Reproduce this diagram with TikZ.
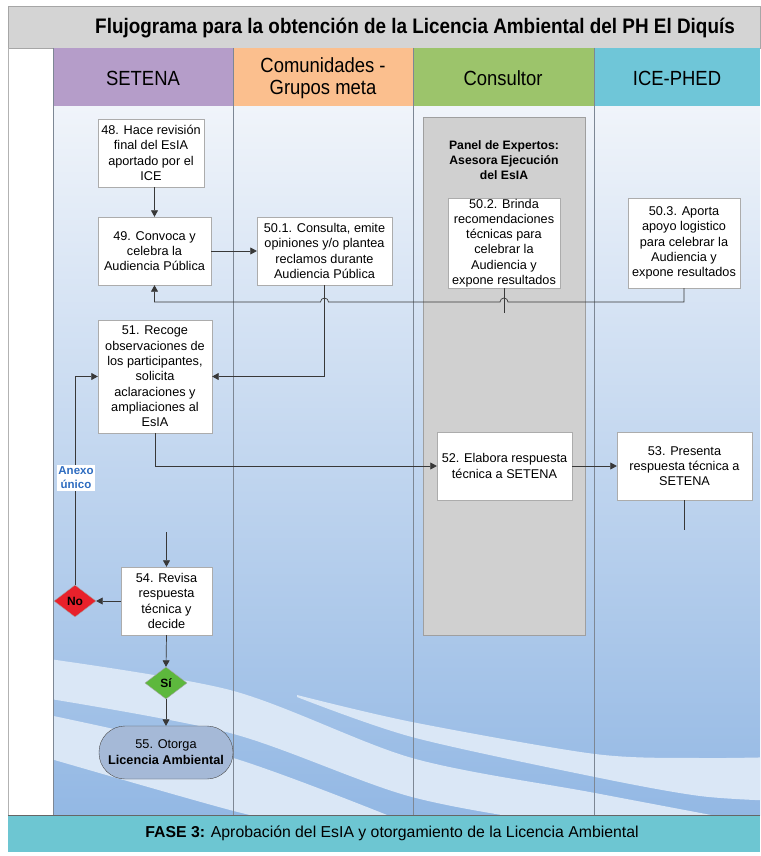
\documentclass[tikz,border=0pt]{standalone}
\usepackage{fontspec}
\setmainfont{Liberation Sans}
\newfontfamily\narrowfont[FakeStretch=0.85]{Liberation Sans}
\newfontfamily\headfont[FakeStretch=0.9]{Liberation Sans}
\usetikzlibrary{arrows.meta,shapes.geometric}
\definecolor{titlegray}{HTML}{D4D4D4}
\definecolor{setena}{HTML}{B59DC9}
\definecolor{comun}{HTML}{FBBF8E}
\definecolor{consul}{HTML}{9CC46B}
\definecolor{ice}{HTML}{6FC6D8}
\definecolor{footer}{HTML}{6DC6D2}
\definecolor{panelgray}{HTML}{D0D0D0}
\definecolor{bgtop}{HTML}{F0F4FA}
\definecolor{bgmid}{HTML}{BCD4F0}
\definecolor{bgbot}{HTML}{93B8E4}
\definecolor{wave}{HTML}{DAE7F6}
\definecolor{noRed}{HTML}{E8212B}
\definecolor{siGreen}{HTML}{5DB83D}
\definecolor{stadium}{HTML}{A5B9D7}
\definecolor{anexo}{HTML}{2E6CC0}
\definecolor{lanegray}{HTML}{7D8794}
\tikzset{
  box/.style={draw=gray!65, fill=white, align=center, inner sep=1pt,
    font=\fontsize{12.7}{15.3}\selectfont},
  lanehead/.style={font=\headfont\fontsize{20.5}{22}\selectfont, align=center},
  conn/.style={draw=black!78, line width=0.7pt},
  arr/.style={conn, -{Triangle[length=6.5pt,width=7pt]}},
  decision/.style={shape=diamond, draw=gray!70, minimum width=42pt, minimum height=32pt,
    inner sep=0pt, font=\bfseries\fontsize{12}{14}\selectfont},
  laneline/.style={draw=lanegray, line width=0.8pt}
}
\begin{document}
\begin{tikzpicture}[x=1pt,y=-1pt]
\useasboundingbox (0,0) rectangle (760,856);
\fill[white] (0,0) rectangle (760,856);
% title band
\fill[titlegray] (8,6) rectangle (760,48);
\draw[gray!70] (8,6) rectangle (760,48);
\node (title) at (415,28) {\headfont\bfseries\fontsize{21}{24}\selectfont Flujograma para la obtenci\'on de la Licencia Ambiental del PH El Diqu\'is};
% lane headers
\fill[setena] (53,48) rectangle (233,107);
\fill[comun] (233,48) rectangle (413,107);
\fill[consul] (413,48) rectangle (594,107);
\fill[ice] (594,48) rectangle (760,107);
\node[lanehead] (hsetena) at (143,78) {SETENA};
\node[lanehead] (hcomun) at (323,78) {Comunidades -\\Grupos meta};
\node[lanehead] (hconsul) at (503,78) {Consultor};
\node[lanehead] (hice) at (677,78) {ICE-PHED};
% body background
\shade[top color=bgtop, middle color=bgmid, bottom color=bgbot] (53,107) rectangle (760,815);
\begin{scope}
\clip (53,107) rectangle (760,815);
\fill[wave] plot[smooth] coordinates {(297,695) (412,722) (595,754) (700,758) (780,757)}
  -- plot[smooth] coordinates {(780,801) (700,796) (595,777) (412,737) (297,697)} -- cycle;
\fill[wave] plot[smooth] coordinates {(20,655) (230,690) (412,758) (595,793) (780,828)}
  -- plot[smooth] coordinates {(780,860) (595,830) (412,797) (230,733) (20,694)} -- cycle;
\fill[wave] plot[smooth] coordinates {(20,709) (230,757) (412,825)}
  -- plot[smooth] coordinates {(412,850) (330,832) (230,810) (20,750)} -- cycle;
\end{scope}
% left strip and lane lines
\draw[gray!60] (8,48) -- (8,852);
\draw[laneline] (53,48) -- (53,815);
\draw[laneline] (233,48) -- (233,815);
\draw[laneline] (413,48) -- (413,815);
\draw[laneline] (594,48) -- (594,815);
% footer
\fill[footer] (8,815) rectangle (760,852);
\draw[black!60, line width=0.8pt] (8,815) -- (760,815);
\node (foot) at (392,833) {\fontsize{15.8}{18}\selectfont\textbf{FASE 3:} Aprobaci\'on del EsIA y otorgamiento de la Licencia Ambiental};
% panel de expertos
\node[draw=gray!75, fill=panelgray, minimum width=162pt, minimum height=518pt, inner sep=0pt] (panel) at (504,376) {};
\node[align=center, font=\bfseries\fontsize{12.2}{15}\selectfont] (paneltitle) at (504,160) {Panel de Expertos:\\Asesora Ejecuci\'on\\del EsIA};
% boxes
\node[box, minimum width=106pt, minimum height=68pt] (n48) at (151,153) {48. Hace revisi\'on\\final del EsIA\\aportado por el\\ICE};
\node[box, minimum width=113pt, minimum height=68pt] (n49) at (154.5,251) {49. Convoca y\\celebra la\\Audiencia P\'ublica};
\node[box, minimum width=135pt, minimum height=68pt] (n501) at (324.5,251) {50.1. Consulta, emite\\opiniones y/o plantea\\reclamos durante\\Audiencia P\'ublica};
\node[box, minimum width=112pt, minimum height=90pt] (n502) at (504,243) {50.2. Brinda\\recomendaciones\\t\'ecnicas para\\celebrar la\\Audiencia y\\expone resultados};
\node[box, minimum width=112pt, minimum height=90pt] (n503) at (684,243) {50.3. Aporta\\apoyo logistico\\para celebrar la\\Audiencia y\\expone resultados};
\node[box, minimum width=114pt, minimum height=113pt] (n51) at (155,376.5) {51. Recoge\\observaciones de\\los participantes,\\solicita\\aclaraciones y\\ampliaciones al\\EsIA};
\node[box, minimum width=135pt, minimum height=68pt] (n52) at (504.5,466) {52. Elabora respuesta\\t\'ecnica a SETENA};
\node[box, minimum width=135pt, minimum height=68pt] (n53) at (684.5,466) {53. Presenta\\respuesta t\'ecnica a\\SETENA};
\node[box, minimum width=91pt, minimum height=68pt] (n54) at (166.5,601) {54. Revisa\\respuesta\\t\'ecnica y\\decide};
\node[decision, fill=noRed] (no) at (75,601) {No};
\node[decision, fill=siGreen] (si) at (166,683) {S\'i};
\node[draw=black!70, fill=stadium, rounded corners=26pt, minimum width=134pt, minimum height=53pt,
  align=center, inner sep=1pt, font=\fontsize{12.7}{16}\selectfont] (n55) at (166,752.5) {55. Otorga\\\textbf{Licencia Ambiental}};
% free-end coordinates
\coordinate (hy) at (0,302);
\coordinate (c502) at (504,313);
\coordinate (c53) at (684.5,530);
\coordinate (c54) at (166.5,532);
% connectors
\draw[arr] (n49.north |- n48.south) -- (n49.north);
\draw[arr] (n49.east) -- (n501.west);
\draw[conn] (n502.south) -- (c502);
\draw[arr] (n501.south) |- (n51.east);
\draw[arr] (n503.south) -- (n503.south |- hy)
  -- ([xshift=4pt]n502.south |- hy) arc[start angle=0, end angle=-180, radius=4]
  -- ([xshift=4pt]n501.south |- hy) arc[start angle=0, end angle=-180, radius=4]
  -- (n49.south |- hy) -- (n49.south);
\draw[arr] (n51.south) |- (n52.west);
\draw[arr] (n52.east) -- (n53.west);
\draw[conn] (n53.south) -- (c53);
\draw[arr] (c54) -- (n54.north);
\draw[arr] (n54.west) -- (no.east);
\draw[arr] (no.north) |- (n51.west);
\draw[arr] (n54.south) -- (si.north);
\draw[arr] (si.south) -- (n55.north);
\node[fill=white, inner sep=1.5pt, align=center, text=anexo, font=\bfseries\fontsize{11.5}{14}\selectfont] (anexo) at (76,478) {Anexo\\\'unico};
\end{tikzpicture}
\end{document}
